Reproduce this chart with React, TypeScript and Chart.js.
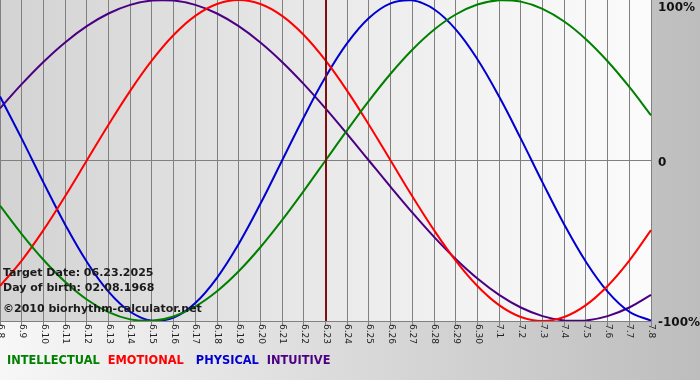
import { useEffect, useRef } from "react";
import { Chart, registerables } from "chart.js";

Chart.register(...registerables);

const dayLabels = [
  "6.8", "6.9", "6.10", "6.11", "6.12", "6.13", "6.14", "6.15", "6.16", "6.17",
  "6.18", "6.19", "6.20", "6.21", "6.22", "6.23", "6.24", "6.25", "6.26", "6.27",
  "6.28", "6.29", "6.30", "7.1", "7.2", "7.3", "7.4", "7.5", "7.6", "7.7", "7.8",
];

const intellectual = [
  -0.2817, -0.4582, -0.6182, -0.7557, -0.866, -0.945, -0.9898, -0.9989, -0.9718, -0.9096,
  -0.8146, -0.6901, -0.5406, -0.3717, -0.1893, 0, 0.1893, 0.3717, 0.5406, 0.6901,
  0.8146, 0.9096, 0.9718, 0.9989, 0.9898, 0.945, 0.866, 0.7557, 0.6182, 0.4582, 0.2817,
];

const emotional = [
  -0.7818, -0.6235, -0.4339, -0.2225, 0, 0.2225, 0.4339, 0.6235, 0.7818, 0.901,
  0.9749, 1, 0.9749, 0.901, 0.7818, 0.6235, 0.4339, 0.2225, 0, -0.2225,
  -0.4339, -0.6235, -0.7818, -0.901, -0.9749, -1, -0.9749, -0.901, -0.7818, -0.6235, -0.4339,
];

const physical = [
  0.3984, 0.1362, -0.1362, -0.3984, -0.6311, -0.817, -0.9423, -0.9977, -0.9791, -0.8879,
  -0.7308, -0.5196, -0.2698, 0, 0.2698, 0.5196, 0.7308, 0.8879, 0.9791, 0.9977,
  0.9423, 0.817, 0.6311, 0.3984, 0.1362, -0.1362, -0.3984, -0.6311, -0.817, -0.9423, -0.9977,
];

const intuitive = [
  0.3247, 0.4759, 0.6142, 0.7357, 0.8372, 0.9158, 0.9694, 0.9966, 0.9966, 0.9694,
  0.9158, 0.8372, 0.7357, 0.6142, 0.4759, 0.3247, 0.1646, 0, -0.1646, -0.3247,
  -0.4759, -0.6142, -0.7357, -0.8372, -0.9158, -0.9694, -0.9966, -0.9966, -0.9694, -0.9158, -0.8372,
];

const seriesNames = ["INTELLECTUAL", "EMOTIONAL", "PHYSICAL", "INTUITIVE"];
const seriesColors = ["#008000", "#ff0000", "#0000d0", "#4b0082"];
const targetLabel = "6.23";
const axisValues = [1, 0, -1];
const axisLabels = ["100%", "0", "-100%"];
const infoLines = [
  "Target Date: 06.23.2025",
  "Day of birth: 02.08.1968",
  "\u00A92010 biorhythm-calculator.net",
];

const FONT = "'DejaVu Sans', Verdana, sans-serif";

const decorPlugin = {
  id: "decor",
  beforeDraw(chart: any) {
    const { ctx, width, height, chartArea } = chart;
    ctx.save();
    const outer = ctx.createLinearGradient(0, 0, width, 0);
    outer.addColorStop(0, "#f7f7f7");
    outer.addColorStop(1, "#bdbdbd");
    ctx.fillStyle = outer;
    ctx.fillRect(0, 0, width, height);
    const inner = ctx.createLinearGradient(chartArea.left, 0, chartArea.right, 0);
    inner.addColorStop(0, "#d3d3d3");
    inner.addColorStop(0.7, "#f2f2f2");
    inner.addColorStop(1, "#fbfbfb");
    ctx.fillStyle = inner;
    ctx.fillRect(chartArea.left, chartArea.top, chartArea.right - chartArea.left, chartArea.bottom - chartArea.top);
    ctx.restore();
  },
  afterDatasetsDraw(chart: any) {
    const { ctx, chartArea } = chart;
    const xs = chart.scales.x;
    const idx = dayLabels.indexOf(targetLabel);
    const px = Math.round(xs.getPixelForValue(idx));
    ctx.save();
    ctx.strokeStyle = "#801010";
    ctx.lineWidth = 2;
    ctx.beginPath();
    ctx.moveTo(px, chartArea.top);
    ctx.lineTo(px, chartArea.bottom);
    ctx.stroke();
    ctx.restore();
  },
  afterDraw(chart: any) {
    const { ctx, chartArea } = chart;
    const xs = chart.scales.x;
    const ys = chart.scales.y;
    ctx.save();
    // x labels, rotated clockwise
    ctx.fillStyle = "#222222";
    ctx.font = `9px ${FONT}`;
    ctx.textAlign = "left";
    ctx.textBaseline = "middle";
    dayLabels.forEach((lab, i) => {
      const px = xs.getPixelForValue(i);
      ctx.save();
      ctx.translate(px + 0.5, chartArea.bottom + 3);
      ctx.rotate(Math.PI / 2);
      ctx.fillText(lab, 0, 0);
      ctx.restore();
    });
    // right axis labels
    ctx.fillStyle = "#111111";
    ctx.font = `bold 12px ${FONT}`;
    ctx.textBaseline = "middle";
    axisValues.forEach((v, i) => {
      const py = Math.max(ys.getPixelForValue(v) + 2, 8);
      ctx.fillText(axisLabels[i], chartArea.right + 7, py);
    });
    // info text
    ctx.font = `bold 11px ${FONT}`;
    ctx.textBaseline = "alphabetic";
    ctx.fillStyle = "#1a1a1a";
    const offs = [45, 30, 9];
    infoLines.forEach((t, i) => {
      ctx.fillText(t, chartArea.left + 3, chartArea.bottom - offs[i]);
    });
    // legend
    ctx.font = `bold 11.4px ${FONT}`;
    let lx = 7;
    const gaps = [8, 12, 8, 0];
    seriesNames.forEach((n, i) => {
      ctx.fillStyle = seriesColors[i];
      ctx.fillText(n, lx, chartArea.bottom + 43);
      lx += ctx.measureText(n).width + gaps[i];
    });
    ctx.restore();
  },
};

export default function App() {
  const ref = useRef<HTMLCanvasElement | null>(null);
  useEffect(() => {
    document.body.style.margin = "0";
    const canvas = ref.current;
    if (!canvas) return;
    const series = [intellectual, emotional, physical, intuitive];
    const chart = new Chart(canvas, {
      type: "line",
      data: {
        labels: dayLabels,
        datasets: series.map((d, i) => ({
          label: seriesNames[i],
          data: d,
          borderColor: seriesColors[i],
          borderWidth: 2,
          pointRadius: 0,
          tension: 0.4,
          fill: false,
        })),
      },
      options: {
        animation: false,
        responsive: false,
        devicePixelRatio: 1,
        layout: { padding: { left: 0, top: 0, right: 49, bottom: 54 } },
        plugins: { legend: { display: false }, tooltip: { enabled: false } },
        scales: {
          x: {
            offset: false,
            ticks: { display: false },
            grid: { color: "#808080", lineWidth: 1, drawTicks: true, tickLength: 5 },
            border: { display: true, color: "#808080" },
          },
          y: {
            position: "right",
            min: -1,
            max: 1,
            ticks: { display: false, stepSize: 1 },
            grid: {
              drawTicks: false,
              color: (c: any) => (c.tick && c.tick.value === 0 ? "#808080" : "rgba(0,0,0,0)"),
            },
            border: { display: false },
          },
        },
      },
      plugins: [decorPlugin],
    });
    return () => chart.destroy();
  }, []);
  return (
    <div style={{ width: 700, height: 380 }}>
      <canvas ref={ref} width={700} height={380} style={{ display: "block" }} />
    </div>
  );
}
